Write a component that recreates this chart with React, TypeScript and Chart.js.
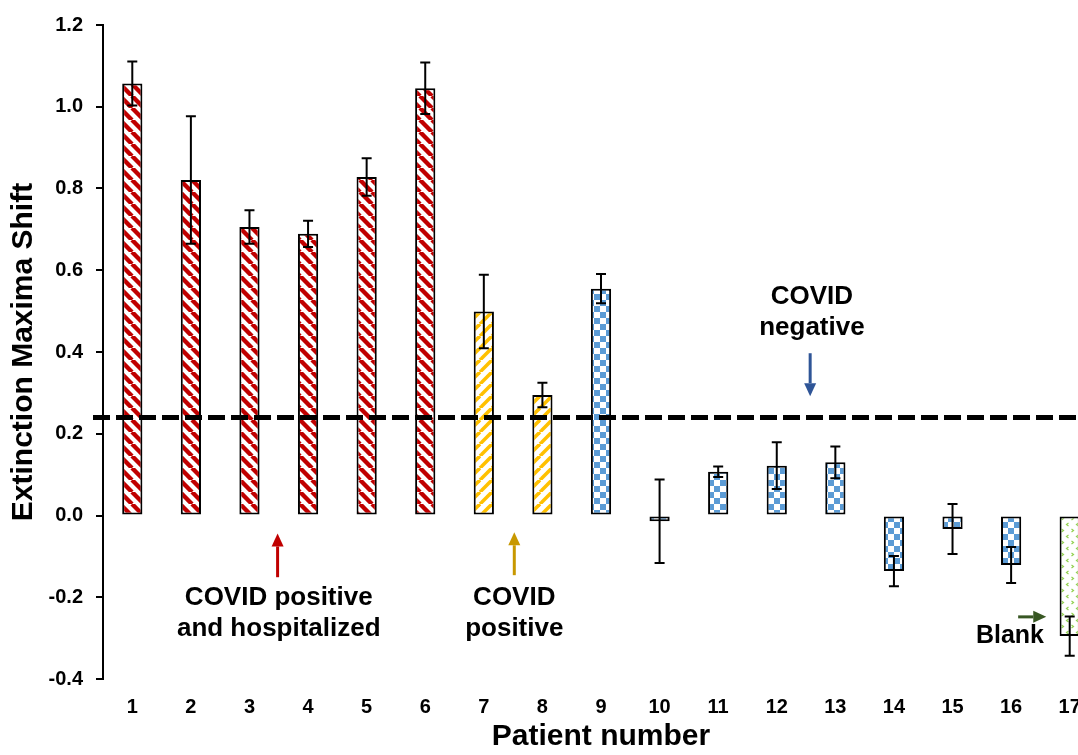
import React, { useEffect, useRef } from 'react';
import { Chart, registerables } from 'chart.js';

Chart.register(...registerables);

// ---------- data ----------
const patientLabels = ['1', '2', '3', '4', '5', '6', '7', '8', '9', '10', '11', '12', '13', '14', '15', '16', '17'];
const shiftValues = [1.057, 0.821, 0.706, 0.689, 0.828, 1.045, 0.499, 0.295, 0.555, -0.014, 0.107, 0.122, 0.130, -0.136, -0.033, -0.121, -0.295];
const errorValues = [0.054, 0.156, 0.041, 0.032, 0.046, 0.063, 0.090, 0.030, 0.036, 0.102, 0.013, 0.057, 0.039, 0.037, 0.061, 0.044, 0.048];
const patientGroups = ['hosp', 'hosp', 'hosp', 'hosp', 'hosp', 'hosp', 'pos', 'pos', 'neg', 'neg', 'neg', 'neg', 'neg', 'neg', 'neg', 'neg', 'blank'];
const thresholdValue = 0.24;
const yMin = -0.4;
const yMax = 1.2;
const yStep = 0.2;

// annotations (data coordinates: category index, value)
const textNotes = [
  { lines: ['COVID positive', 'and hospitalized'], x: 2.5, y: [-0.202, -0.278], size: 26 },
  { lines: ['COVID', 'positive'], x: 6.52, y: [-0.202, -0.278], size: 26 },
  { lines: ['COVID', 'negative'], x: 11.6, y: [0.536, 0.460], size: 26 },
  { lines: ['Blank'], x: 14.98, y: [-0.295], size: 25 },
];
const arrowNotes = [
  { x1: 2.48, y1: -0.151, x2: 2.48, y2: -0.044, color: '#C00000' },
  { x1: 6.52, y1: -0.146, x2: 6.52, y2: -0.041, color: '#C89800' },
  { x1: 11.57, y1: 0.397, x2: 11.57, y2: 0.292, color: '#2F5597' },
  { x1: 15.12, y1: -0.248, x2: 15.6, y2: -0.248, color: '#385723' },
];

const FONT = "'Liberation Sans', Arial, Helvetica, sans-serif";

function makePattern(kind: string): CanvasPattern | string {
  const c = document.createElement('canvas');
  const g = c.getContext('2d');
  if (!g) return '#fff';
  if (kind === 'hosp' || kind === 'pos') {
    const s = 12;
    c.width = s;
    c.height = s;
    g.fillStyle = '#ffffff';
    g.fillRect(0, 0, s, s);
    g.strokeStyle = kind === 'hosp' ? '#C00000' : '#FFC000';
    g.lineWidth = kind === 'hosp' ? 4.4 : 3.6;
    for (const k of [-1, 0, 1]) {
      g.beginPath();
      if (kind === 'hosp') {
        g.moveTo(k * s, 0);
        g.lineTo(k * s + s, s);
      } else {
        g.moveTo(k * s + s, 0);
        g.lineTo(k * s, s);
      }
      g.stroke();
    }
  } else if (kind === 'neg') {
    const s = 12;
    c.width = s;
    c.height = s;
    g.fillStyle = '#ffffff';
    g.fillRect(0, 0, s, s);
    g.fillStyle = '#5B9BD5';
    g.fillRect(0, 0, s / 2, s / 2);
    g.fillRect(s / 2, s / 2, s / 2, s / 2);
  } else {
    c.width = 10;
    c.height = 12;
    g.fillStyle = '#ffffff';
    g.fillRect(0, 0, 10, 12);
    g.strokeStyle = '#92D050';
    g.lineWidth = 1.2;
    g.beginPath();
    g.moveTo(1.5, 1);
    g.lineTo(3.5, 2.5);
    g.lineTo(1.5, 4);
    g.moveTo(8.5, 7);
    g.lineTo(6.5, 8.5);
    g.lineTo(8.5, 10);
    g.stroke();
  }
  return g.createPattern(c, 'repeat') || '#fff';
}

const overlayPlugin = {
  id: 'overlay',
  afterDatasetsDraw(chart: any) {
    const ctx: CanvasRenderingContext2D = chart.ctx;
    const xs = chart.scales.x;
    const ys = chart.scales.y;
    const area = chart.chartArea;

    // threshold dashed line
    ctx.save();
    ctx.setLineDash([17, 6]);
    ctx.lineWidth = 5;
    ctx.strokeStyle = '#000';
    const ty = ys.getPixelForValue(thresholdValue);
    ctx.beginPath();
    ctx.moveTo(area.left - 10, ty);
    ctx.lineTo(chart.width, ty);
    ctx.stroke();
    ctx.restore();

    // error bars
    const meta = chart.getDatasetMeta(0);
    ctx.save();
    ctx.strokeStyle = '#000';
    ctx.lineWidth = 2;
    meta.data.forEach((bar: any, i: number) => {
      const x = bar.x;
      const yHi = ys.getPixelForValue(shiftValues[i] + errorValues[i]);
      const yLo = ys.getPixelForValue(shiftValues[i] - errorValues[i]);
      ctx.beginPath();
      ctx.moveTo(x, yHi);
      ctx.lineTo(x, yLo);
      ctx.moveTo(x - 5, yHi);
      ctx.lineTo(x + 5, yHi);
      ctx.moveTo(x - 5, yLo);
      ctx.lineTo(x + 5, yLo);
      ctx.stroke();
    });
    ctx.restore();

    // arrows
    arrowNotes.forEach((a) => {
      const x1 = xs.getPixelForValue(a.x1);
      const x2 = xs.getPixelForValue(a.x2);
      const y1 = ys.getPixelForValue(a.y1);
      const y2 = ys.getPixelForValue(a.y2);
      const ang = Math.atan2(y2 - y1, x2 - x1);
      const head = 13;
      const half = 6;
      const bx = x2 - head * Math.cos(ang);
      const by = y2 - head * Math.sin(ang);
      ctx.save();
      ctx.strokeStyle = a.color;
      ctx.fillStyle = a.color;
      ctx.lineWidth = 3;
      ctx.beginPath();
      ctx.moveTo(x1, y1);
      ctx.lineTo(bx, by);
      ctx.stroke();
      ctx.beginPath();
      ctx.moveTo(x2, y2);
      ctx.lineTo(bx + half * Math.sin(ang), by - half * Math.cos(ang));
      ctx.lineTo(bx - half * Math.sin(ang), by + half * Math.cos(ang));
      ctx.closePath();
      ctx.fill();
      ctx.restore();
    });

    // text notes
    textNotes.forEach((n) => {
      ctx.save();
      ctx.fillStyle = '#000';
      ctx.font = `bold ${n.size}px ${FONT}`;
      ctx.textAlign = 'center';
      ctx.textBaseline = 'middle';
      const x = xs.getPixelForValue(n.x);
      n.lines.forEach((line, j) => {
        ctx.fillText(line, x, ys.getPixelForValue(n.y[j]));
      });
      ctx.restore();
    });
  },
};

export default function App() {
  const canvasRef = useRef<HTMLCanvasElement | null>(null);

  useEffect(() => {
    if (!canvasRef.current) return;
    Chart.defaults.font.family = FONT;
    Chart.defaults.color = '#000';
    const fills = patientGroups.map((g) => makePattern(g));
    const chart = new Chart(canvasRef.current, {
      type: 'bar',
      data: {
        labels: patientLabels,
        datasets: [
          {
            data: shiftValues,
            backgroundColor: fills as any,
            borderColor: '#000',
            borderWidth: 2,
            borderSkipped: false,
            categoryPercentage: 1,
            barPercentage: 0.345,
          },
        ],
      },
      options: {
        responsive: false,
        animation: false,
        devicePixelRatio: 1,
        layout: { padding: { top: 21, right: 1, left: 0, bottom: 0 } },
        plugins: { legend: { display: false }, tooltip: { enabled: false } },
        scales: {
          x: {
            grid: { display: false, drawTicks: false },
            border: { display: false },
            ticks: {
              autoSkip: false,
              maxRotation: 0,
              padding: 16,
              font: { size: 20, weight: 'bold' },
              color: '#000',
            },
            title: {
              display: true,
              text: 'Patient number',
              font: { size: 30, weight: 'bold' },
              color: '#000',
              padding: { top: 0, bottom: 0 },
            },
            afterFit: (scale: any) => {
              scale.height = 76;
            },
          },
          y: {
            min: yMin,
            max: yMax,
            grid: { drawOnChartArea: false, drawTicks: true, tickLength: 7, color: '#000', lineWidth: 2 },
            border: { display: true, color: '#000', width: 2 },
            ticks: {
              stepSize: yStep,
              padding: 13,
              font: { size: 20, weight: 'bold' },
              color: '#000',
              callback: (v: any) => Number(v).toFixed(1),
            },
            title: {
              display: true,
              text: 'Extinction Maxima Shift',
              font: { size: 30, weight: 'bold' },
              color: '#000',
              padding: { top: 6, bottom: 0 },
            },
            afterFit: (scale: any) => {
              scale.width = 103;
            },
          },
        },
      },
      plugins: [overlayPlugin],
    });
    return () => chart.destroy();
  }, []);

  return (
    <div
      style={{
        position: 'fixed',
        left: 0,
        top: 0,
        width: 1078,
        height: 755,
        overflow: 'hidden',
        background: '#fff',
      }}
    >
      <canvas ref={canvasRef} width={1100} height={755} style={{ display: 'block', width: 1100, height: 755 }} />
    </div>
  );
}
